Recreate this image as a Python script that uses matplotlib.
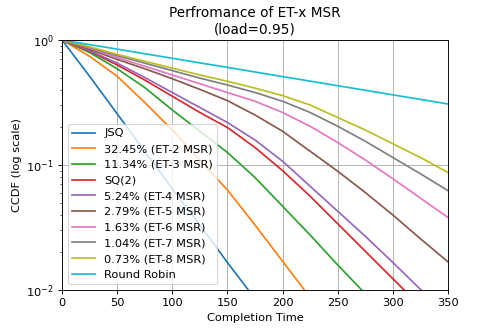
import numpy as np
import matplotlib
matplotlib.use("Agg")
import matplotlib.pyplot as plt

# completion time samples
t = [0, 25, 50, 75, 100, 125, 150, 175, 200, 225, 250, 275, 300, 325, 350]

# log10(CCDF), one list per policy
jsq = [0, -0.29, -0.59, -0.89, -1.19, -1.48, -1.78, -2.07]
et2 = [0, -0.13, -0.29, -0.50, -0.72, -0.96, -1.20, -1.48, -1.77, -2.06]
et3 = [0, -0.10, -0.23, -0.38, -0.56, -0.73, -0.90, -1.10, -1.33, -1.56, -1.80, -2.03]
sq2 = [0, -0.09, -0.20, -0.32, -0.45, -0.58, -0.70, -0.86, -1.045, -1.25, -1.47, -1.69, -1.91, -2.13]
et4 = [0, -0.085, -0.185, -0.30, -0.42, -0.54, -0.66, -0.80, -0.97, -1.17, -1.37, -1.57, -1.78, -1.995, -2.2]
et5 = [0, -0.075, -0.155, -0.23, -0.31, -0.395, -0.485, -0.60, -0.73, -0.89, -1.05, -1.22, -1.40, -1.59, -1.775]
et6 = [0, -0.065, -0.14, -0.21, -0.28, -0.35, -0.42, -0.49, -0.58, -0.69, -0.82, -0.96, -1.11, -1.265, -1.42]
et7 = [0, -0.06, -0.125, -0.185, -0.245, -0.305, -0.36, -0.42, -0.49, -0.58, -0.69, -0.81, -0.94, -1.07, -1.205]
et8 = [0, -0.055, -0.115, -0.17, -0.225, -0.28, -0.33, -0.385, -0.445, -0.52, -0.62, -0.72, -0.83, -0.94, -1.06]
rr = [0, -0.037, -0.073, -0.11, -0.146, -0.183, -0.219, -0.256, -0.293, -0.329, -0.366, -0.402, -0.439, -0.475, -0.512]

labels = ['JSQ', '32.45% (ET-2 MSR)', '11.34% (ET-3 MSR)', 'SQ(2)',
          '5.24% (ET-4 MSR)', '2.79% (ET-5 MSR)', '1.63% (ET-6 MSR)',
          '1.04% (ET-7 MSR)', '0.73% (ET-8 MSR)', 'Round Robin']
series = [jsq, et2, et3, sq2, et4, et5, et6, et7, et8, rr]

DPI = 82
fig = plt.figure(figsize=(498 / DPI, 332 / DPI), dpi=DPI)
ax = fig.add_axes([62 / 498, 1 - 290 / 332, 386 / 498, 250 / 332])

for vals, lab in zip(series, labels):
    ax.plot(t[:len(vals)], 10 ** np.array(vals), label=lab)

ax.set_yscale('log')
ax.set_xlim(0, 350)
ax.set_ylim(1e-2, 1)
ax.grid(True)
ax.set_xlabel('Completion Time')
ax.set_ylabel('CCDF (log scale)')
ax.set_title('Perfromance of ET-x MSR\n(load=0.95)')
ax.legend(loc='lower left')

fig.savefig('out.png', dpi=DPI)
